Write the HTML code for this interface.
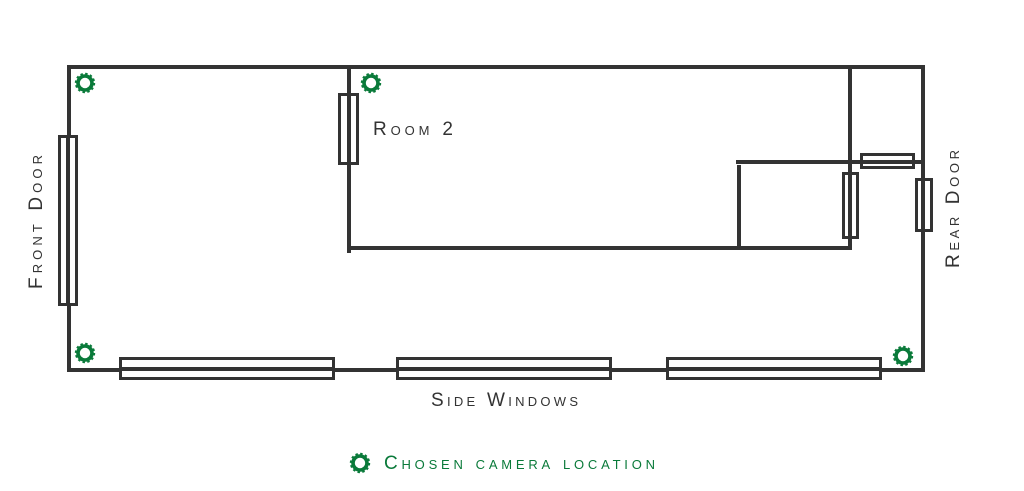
<!DOCTYPE html>
<html><head><meta charset="utf-8"><style>
html,body{margin:0;padding:0;background:#fff;}
svg{display:block;}
text{font-family:"Liberation Sans",sans-serif;font-variant:small-caps;}
</style></head><body>
<svg width="1024" height="491" viewBox="0 0 1024 491" xmlns="http://www.w3.org/2000/svg">
<defs>
<g id="gear">
<circle r="7" fill="none" stroke="#0a7a3a" stroke-width="3.6"/>
<circle r="9" fill="none" stroke="#0a7a3a" stroke-width="2.4" stroke-dasharray="2.4 2.3"/>
</g>
</defs>
<g stroke="#333" stroke-width="4" fill="none" stroke-linecap="square">
<rect x="69" y="67" width="854" height="303"/>
<line x1="349" y1="67" x2="349" y2="251"/>
<line x1="349" y1="248" x2="850" y2="248"/>
<line x1="850" y1="67" x2="850" y2="248"/>
<line x1="738" y1="162" x2="923" y2="162"/>
<line x1="739" y1="167" x2="739" y2="248"/>
</g>
<g stroke="#333" stroke-width="3" fill="#fff">
<rect x="59.5" y="136.5" width="17" height="168"/>
<rect x="339.5" y="94.5" width="18" height="69"/>
<rect x="861.5" y="154.5" width="52" height="13"/>
<rect x="843.5" y="173.5" width="14" height="64"/>
<rect x="916.5" y="179.5" width="15" height="51"/>
<rect x="120.5" y="358.5" width="213" height="20"/>
<rect x="397.5" y="358.5" width="213" height="20"/>
<rect x="667.5" y="358.5" width="213" height="20"/>
</g>
<g stroke="#333" stroke-width="4">
<line x1="68" y1="136" x2="68" y2="305"/>
<line x1="349" y1="94" x2="349" y2="164"/>
<line x1="861" y1="162" x2="914" y2="162"/>
<line x1="850" y1="173" x2="850" y2="238"/>
<line x1="923" y1="179" x2="923" y2="231"/>
<line x1="120" y1="369" x2="334" y2="369"/>
<line x1="397" y1="369" x2="611" y2="369"/>
<line x1="667" y1="369" x2="881" y2="369"/>
</g>
<use href="#gear" x="85" y="83"/>
<use href="#gear" x="371" y="83"/>
<use href="#gear" x="85" y="353"/>
<use href="#gear" x="903" y="356"/>
<use href="#gear" x="360" y="463"/>
<text x="373" y="135" font-size="19" fill="#333" textLength="80" lengthAdjust="spacing">Room 2</text>
<text x="431" y="406" font-size="19" fill="#333" textLength="147" lengthAdjust="spacing">Side Windows</text>
<text x="384" y="469" font-size="19" fill="#0a7a3a" textLength="271" lengthAdjust="spacing">Chosen camera location</text>
<text transform="translate(42,289) rotate(-90)" font-size="19" fill="#333" textLength="134" lengthAdjust="spacing">Front Door</text>
<text transform="translate(959,268) rotate(-90)" font-size="19" fill="#333" textLength="118" lengthAdjust="spacing">Rear Door</text>
</svg>
</body></html>
